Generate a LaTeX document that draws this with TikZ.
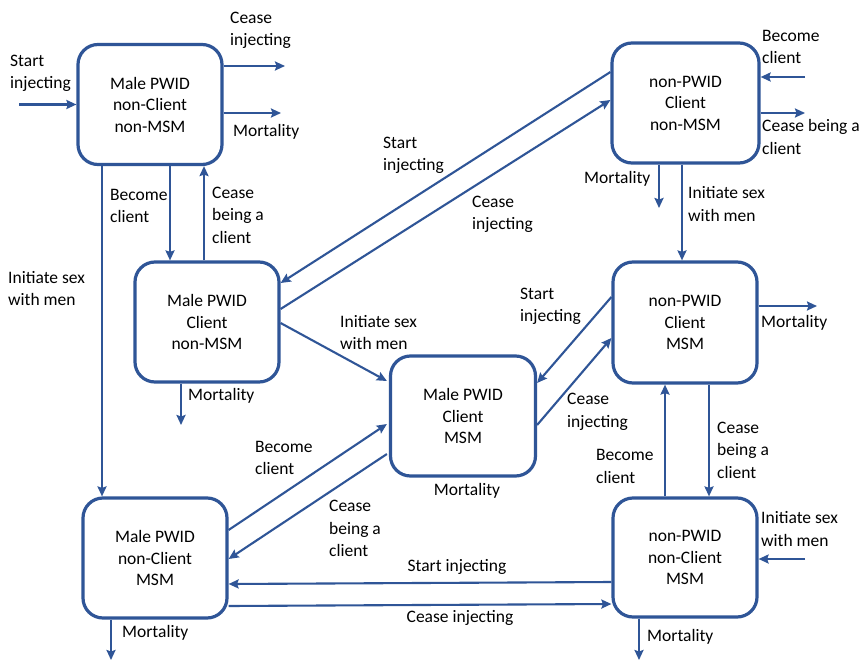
\documentclass[tikz,border=0pt]{standalone}
\usepackage{fontspec}
\setmainfont{Carlito}
\usetikzlibrary{arrows.meta}
\definecolor{lineblue}{RGB}{47,85,151}
\begin{document}
\begin{tikzpicture}[x=1pt,y=-1pt,
  box/.style={draw=lineblue,line width=3.2pt,rounded corners=20pt,fill=white,
    minimum width=144pt,minimum height=120pt,align=center,inner sep=2pt,
    font=\fontsize{17.5}{21.5}\selectfont},
  lbl/.style={anchor=west,align=left,inner sep=0pt,
    font=\fontsize{17.5}{22.5}\selectfont},
  clbl/.style={anchor=center,align=center,inner sep=0pt,
    font=\fontsize{17.5}{22.5}\selectfont},
  arr/.style={draw=lineblue,line width=2.1pt,-{Stealth[length=10pt,width=9pt,inset=1.5pt]}},
  ln/.style={draw=lineblue,line width=2.1pt}]
\useasboundingbox (0,0) rectangle (859,661);
\fill[white] (0,0) rectangle (859,661);

% boxes
\node[box] (A) at (150,104.5) {Male PWID\\non-Client\\non-MSM};
\node[box,minimum width=147pt] (B) at (685.5,103) {non-PWID\\Client\\non-MSM};
\node[box] (C) at (207,322) {Male PWID\\Client\\non-MSM};
\node[box,minimum width=145pt] (D) at (463,416) {Male PWID\\Client\\MSM};
\node[box,minimum height=121pt] (E) at (685,322.5) {non-PWID\\Client\\MSM};
\node[box] (F) at (155,558) {Male PWID\\non-Client\\MSM};
\node[box,minimum height=119pt] (G) at (685,557.5) {non-PWID\\non-Client\\MSM};

% helper coordinates (free ends and vertical lines)
\coordinate (sA) at (19,104.5);
\coordinate (ceA) at (285,66);
\coordinate (mA) at (281,113);
\coordinate (xL) at (102,0);
\coordinate (xBc) at (170,0);
\coordinate (xCb) at (204,0);
\coordinate (bB) at (805,77);
\coordinate (cB) at (805,113);
\coordinate (mB) at (659,208);
\coordinate (xBE) at (682,0);
\coordinate (mC) at (181,425);
\coordinate (mE) at (817,306);
\coordinate (xGE) at (665,0);
\coordinate (xEG) at (709,0);
\coordinate (iG) at (805,559);
\coordinate (mG) at (639,660);
\coordinate (mF) at (111,660);

% connectors around A
\draw[arr] (sA) -- (A.west);
\draw[arr] (A.east |- ceA) -- (ceA);
\draw[arr] (A.east |- mA) -- (mA);
\draw[arr] (A.south -| xL) -- (F.north -| xL);
\draw[arr] (A.south -| xBc) -- (C.north -| xBc);
\draw[arr] (C.north -| xCb) -- (A.south -| xCb);

% B
\draw[arr] (bB) -- (B.east |- bB);
\draw[arr] (B.east |- cB) -- (cB);
\draw[arr] (B.south -| mB) -- (mB);
\draw[arr] (B.south -| xBE) -- (E.north -| xBE);
\draw[arr] ([yshift=31pt]B.west) -- ([yshift=39pt]C.east);
\draw[arr] ([yshift=13pt]C.east) -- ([yshift=3pt]B.west);

% C
\draw[arr] (C.south -| mC) -- (mC);
\draw[arr] ([yshift=-1pt]C.east) -- ([yshift=35pt,xshift=-2pt]D.west);

% D, F
\draw[arr] ([yshift=28pt]F.east) -- ([yshift=-8pt,xshift=-2pt]D.west);
\draw[arr] ([yshift=-38pt,xshift=-2pt]D.west) -- ([yshift=-1pt]F.east);

% D, E
\draw[arr] ([yshift=25.5pt]E.west) -- ([yshift=33pt]D.east);
\draw[arr] ([yshift=-9pt]D.east) -- ([yshift=-15.5pt]E.west);
\draw[arr] (E.east |- mE) -- (mE);
\draw[arr] (G.north -| xGE) -- (E.south -| xGE);
\draw[arr] (E.south -| xEG) -- (G.north -| xEG);

% G, F
\draw[arr] (iG) -- (G.east |- iG);
\draw[arr] (G.south -| mG) -- (mG);
\draw[arr] (F.south -| mF) -- (mF);
\draw[arr] ([yshift=-24.5pt]G.west) -- ([yshift=-26pt]F.east);
\draw[arr] ([yshift=-48pt]F.east) -- ([yshift=-46.5pt]G.west);

% labels
\node[lbl] (l1) at (10,73.5) {Start\\injecting};
\node[lbl] (l2) at (230,30.5) {Cease\\injecting};
\node[lbl] (l3) at (233,132) {Mortality};
\node[lbl] (l4) at (110,206) {Become\\client};
\node[lbl] (l5) at (212,215) {Cease\\being a\\client};
\node[lbl] (l6) at (8,288.5) {Initiate sex\\with men};
\node[lbl] (l7) at (762,47) {Become\\client};
\node[lbl] (l8) at (762,137) {Cease being a\\client};
\node[lbl] (l9) at (584,179) {Mortality};
\node[lbl] (l10) at (688,204) {Initiate sex\\with men};
\node[lbl] (l11) at (383,155.5) {Start\\injecting};
\node[lbl] (l12) at (472,214.5) {Cease\\injecting};
\node[lbl] (l13) at (188,396) {Mortality};
\node[lbl] (l14) at (340,332.5) {Initiate sex\\with men};
\node[lbl] (l15) at (520,306.5) {Start\\injecting};
\node[lbl] (l16) at (761,323) {Mortality};
\node[lbl] (l17) at (255,458) {Become\\client};
\node[lbl] (l18) at (567,412) {Cease\\injecting};
\node[clbl] (l19) at (467,491) {Mortality};
\node[lbl] (l20) at (596,466.5) {Become\\client};
\node[lbl] (l21) at (717,450) {Cease\\being a\\client};
\node[lbl] (l22) at (329,528.5) {Cease\\being a\\client};
\node[lbl] (l23) at (761,529) {Initiate sex\\with men};
\node[clbl] (l24) at (457,567) {Start injecting};
\node[clbl] (l25) at (460,618) {Cease injecting};
\node[lbl] (l26) at (122,633) {Mortality};
\node[lbl] (l27) at (647,637) {Mortality};
\end{tikzpicture}
\end{document}
